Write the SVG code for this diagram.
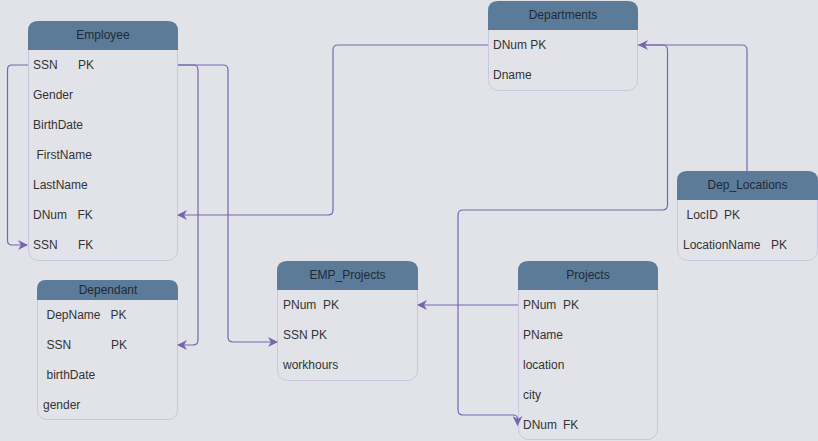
<svg xmlns="http://www.w3.org/2000/svg" width="818" height="441" viewBox="0 0 818 441">
  <defs>
    <marker id="arrow" viewBox="0 0 10 10" refX="9" refY="5" markerWidth="10" markerHeight="10" markerUnits="userSpaceOnUse" orient="auto">
      <path d="M0,0 L10,5 L0,10 L3,5 Z" fill="#7467b0"/>
    </marker>
  </defs>
  <style>
    .bg { fill: #e2e3e9; }
    .box { fill: #e2e3e9; stroke: #c9c6e0; stroke-width: 1; }
    .head { fill: #5b7b99; }
    .title { font-family: "Liberation Sans", Arial, sans-serif; font-size: 12px; fill: #1f2a36; text-anchor: middle; }
    .row { font-family: "Liberation Sans", Arial, sans-serif; font-size: 12px; fill: #333333; }
    .link { fill: none; stroke: #7467b0; stroke-width: 1.2; }
  </style>
  <rect class="bg" x="0" y="0" width="818" height="441"/>

  <g id="employee">
    <rect class="box" x="28.5" y="21.5" width="149" height="239" rx="10"/>
    <path class="head" d="M28,50 V31 Q28,21 38,21 H168 Q178,21 178,31 V50 Z"/>
    <text class="title" x="103" y="39">Employee</text>
    <text class="row" x="33" y="69">SSN<tspan x="78">PK</tspan></text>
    <text class="row" x="33" y="99">Gender</text>
    <text class="row" x="33" y="129">BirthDate</text>
    <text class="row" x="36.5" y="159">FirstName</text>
    <text class="row" x="33" y="189">LastName</text>
    <text class="row" x="33" y="219">DNum<tspan x="77.5">FK</tspan></text>
    <text class="row" x="33" y="249">SSN<tspan x="78">FK</tspan></text>
  </g>

  <g id="dependant">
    <rect class="box" x="37.5" y="280.5" width="140" height="139" rx="9"/>
    <path class="head" d="M37,300 V289 Q37,280 46,280 H169 Q178,280 178,289 V300 Z"/>
    <text class="title" x="108" y="294">Dependant</text>
    <text class="row" x="46.5" y="319">DepName<tspan x="110.5">PK</tspan></text>
    <text class="row" x="46.5" y="349">SSN<tspan x="111">PK</tspan></text>
    <text class="row" x="46.5" y="379">birthDate</text>
    <text class="row" x="43" y="409">gender</text>
  </g>

  <g id="emp_projects">
    <rect class="box" x="277.5" y="261.5" width="140" height="119" rx="10"/>
    <path class="head" d="M277,290 V271 Q277,261 287,261 H408 Q418,261 418,271 V290 Z"/>
    <text class="title" x="347.5" y="279">EMP_Projects</text>
    <text class="row" x="283" y="309">PNum<tspan x="323">PK</tspan></text>
    <text class="row" x="283" y="339">SSN PK</text>
    <text class="row" x="283" y="369">workhours</text>
  </g>

  <g id="projects">
    <rect class="box" x="518.5" y="261.5" width="139" height="178" rx="10"/>
    <path class="head" d="M518,290 V271 Q518,261 528,261 H648 Q658,261 658,271 V290 Z"/>
    <text class="title" x="588" y="279">Projects</text>
    <text class="row" x="523" y="309">PNum<tspan x="563">PK</tspan></text>
    <text class="row" x="523" y="339">PName</text>
    <text class="row" x="523" y="369">location</text>
    <text class="row" x="523" y="399">city</text>
    <text class="row" x="523" y="429">DNum<tspan x="563">FK</tspan></text>
  </g>

  <g id="departments">
    <rect class="box" x="488.5" y="1.5" width="149" height="89" rx="10"/>
    <path class="head" d="M488,30 V11 Q488,1 498,1 H628 Q638,1 638,11 V30 Z"/>
    <text class="title" x="563" y="19">Departments</text>
    <text class="row" x="493" y="49">DNum PK</text>
    <text class="row" x="493" y="79">Dname</text>
  </g>

  <g id="dep_locations">
    <rect class="box" x="677.5" y="171.5" width="140" height="89" rx="10"/>
    <path class="head" d="M677,200 V181 Q677,171 687,171 H808 Q818,171 818,181 V200 Z"/>
    <text class="title" x="747.5" y="189">Dep_Locations</text>
    <text class="row" x="686.5" y="219">LocID<tspan x="724">PK</tspan></text>
    <text class="row" x="683" y="249">LocationName<tspan x="771">PK</tspan></text>
  </g>

  <g id="connectors">
    <!-- Employee.SSN -> Employee.SSN (supervisor) -->
    <path class="link" d="M28,65 H12 Q7.5,65 7.5,69.5 V240.5 Q7.5,245 12,245 H27" marker-end="url(#arrow)"/>
    <!-- Employee.SSN -> Dependant.SSN -->
    <path class="link" d="M178,65 H193 Q198,65 198,70 V340 Q198,345 193,345 H178" marker-end="url(#arrow)"/>
    <!-- Employee.SSN -> EMP_Projects.SSN -->
    <path class="link" d="M178,65 H223 Q228,65 228,70 V337 Q228,342 233,342 H277" marker-end="url(#arrow)"/>
    <!-- Departments.DNum -> Employee.DNum -->
    <path class="link" d="M488,45 H338 Q333,45 333,50 V210 Q333,215 328,215 H178" marker-end="url(#arrow)"/>
    <!-- Departments.DNum -> Projects.DNum -->
    <path class="link" d="M638,45 H662 Q667.5,45 667.5,50 V205 Q667.5,210 662.5,210 H463 Q458,210 458,215 V410 Q458,415 463,415 H513 Q517.5,415 517.5,419 V425" marker-end="url(#arrow)"/>
    <!-- Dep_Locations -> Departments.DNum -->
    <path class="link" d="M747,171 V50 Q747,45 742,45 H639" marker-end="url(#arrow)"/>
    <!-- Projects.PNum -> EMP_Projects.PNum -->
    <path class="link" d="M518,305 H418" marker-end="url(#arrow)"/>
  </g>
</svg>
